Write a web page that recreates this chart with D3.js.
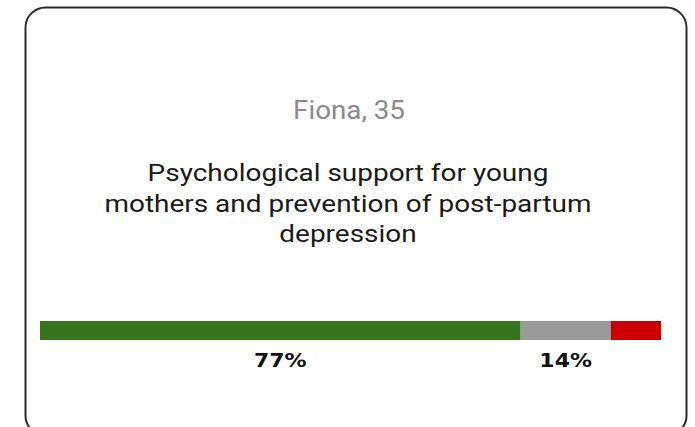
<!DOCTYPE html>
<html>
<head>
<meta charset="utf-8">
<script src="https://cdn.jsdelivr.net/npm/d3@7"></script>
<style>
  html, body { margin: 0; padding: 0; background: #ffffff; }
  svg { display: block; }
</style>
</head>
<body>
<svg id="chart" width="695" height="427"></svg>
<script>
const person = "Fiona, 35";
const titleLines = ["Psychological support for young", "mothers and prevention of post-partum", "depression"];
const categories = ["Support", "Neutral", "Oppose"];
const shares = [77.4, 14.5, 8.1];
const shareLabels = ["77%", "14%", ""];
const colors = ["#38761d", "#999999", "#cc0000"];

const svg = d3.select("#chart");

// card
svg.append("rect")
  .attr("x", 25.5).attr("y", 7.5)
  .attr("width", 661).attr("height", 428)
  .attr("rx", 20).attr("ry", 20)
  .attr("fill", "#ffffff")
  .attr("stroke", "#2b2b2b")
  .attr("stroke-width", 2);

svg.append("text")
  .attr("transform", "translate(349,119) scale(1.11,1)")
  .attr("text-anchor", "middle")
  .attr("font-family", "Roboto")
  .attr("font-size", 25)
  .attr("fill", "#8a8a8a")
  .text(person);

svg.append("g").selectAll("text")
  .data(titleLines)
  .join("text")
  .attr("transform", (d, i) => `translate(348,${181 + i * 30.5}) scale(1.165,1)`)
  .attr("text-anchor", "middle")
  .attr("font-family", "Roboto")
  .attr("font-size", 24)
  .attr("fill", "#1a1a1a")
  .text(d => d);

const x = d3.scaleLinear().domain([0, d3.sum(shares)]).range([40, 661]);
let acc = 0;
const segs = shares.map((v, i) => {
  const s = { cat: categories[i], start: acc, end: acc + v, label: shareLabels[i], color: colors[i] };
  acc += v;
  return s;
});

svg.append("g").selectAll("rect")
  .data(segs)
  .join("rect")
  .attr("x", d => x(d.start))
  .attr("y", 321)
  .attr("width", d => x(d.end) - x(d.start))
  .attr("height", 19)
  .attr("fill", d => d.color);

svg.append("g").selectAll("text")
  .data(segs)
  .join("text")
  .attr("transform", d => `translate(${(x(d.start) + x(d.end)) / 2},367) scale(1.1,1)`)
  .attr("text-anchor", "middle")
  .attr("font-family", "DejaVu Sans")
  .attr("font-weight", "bold")
  .attr("font-size", 20)
  .attr("fill", "#111111")
  .text(d => d.label);
</script>
</body>
</html>
